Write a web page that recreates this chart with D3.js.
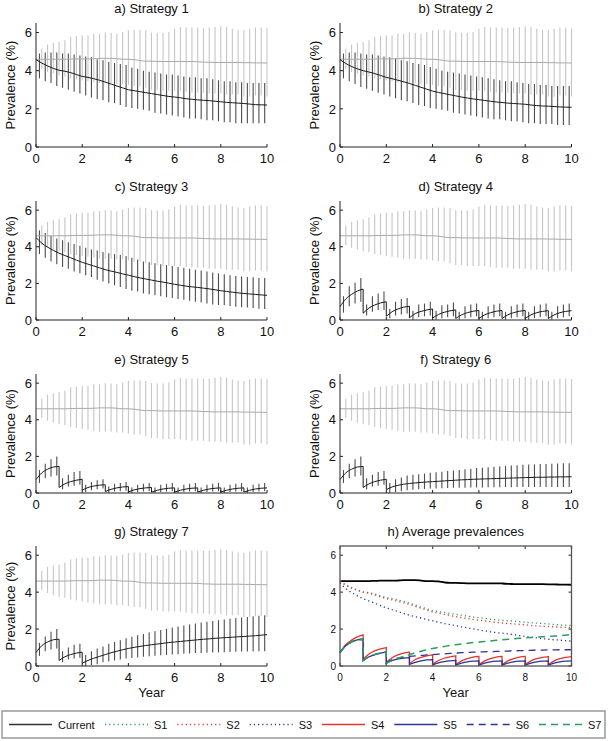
<!DOCTYPE html>
<html><head><meta charset="utf-8">
<script src="https://cdn.jsdelivr.net/npm/d3@7/dist/d3.min.js"></script>
<style>body{margin:0;background:#fff}svg{display:block}text{font-family:"Liberation Sans",Arial,Helvetica,sans-serif;fill:#111}</style>
</head><body><svg id="c" width="608" height="741"></svg>
<script>
// ---------------- DATA ----------------
const xTicks = [0, 2, 4, 6, 8, 10];
const yTicks = [0, 2, 4, 6];
const yearStarts = [0, 1, 2, 3, 4, 5, 6, 7, 8, 9];
const withinYear = [0, 0.25, 0.5, 0.75, 1];
const barTimes = [0.25,0.5,0.75,1,1.25,1.5,1.75,2,2.25,2.5,2.75,3,3.25,3.5,3.75,4,4.25,4.5,4.75,5,
                  5.25,5.5,5.75,6,6.25,6.5,6.75,7,7.25,7.5,7.75,8,8.25,8.5,8.75,9,9.25,9.5,9.75,10];

// Current (grey) series: mean at yearly segments, and error bar bounds
const currentMean = [
 [4.6,4.6,4.6,4.6,4.6],[4.6,4.6,4.61,4.62,4.62],[4.62,4.62,4.63,4.65,4.65],[4.65,4.65,4.63,4.6,4.6],
 [4.6,4.58,4.53,4.5,4.5],[4.5,4.49,4.48,4.48,4.48],[4.48,4.48,4.48,4.48,4.47],[4.47,4.45,4.44,4.43,4.43],
 [4.43,4.43,4.43,4.43,4.42],[4.42,4.42,4.41,4.41,4.4]];
const currentHi = [5.16,5.37,5.45,5.5,5.6,5.77,5.82,5.86,5.86,5.94,5.94,6.0,5.98,5.94,6.03,6.12,6.15,6.15,6.12,6.0,
                   5.98,5.98,6.03,6.2,6.29,6.26,6.26,6.26,6.24,6.26,6.29,6.33,6.29,6.2,6.15,6.12,6.2,6.26,6.26,6.22];
const currentLo = [4.1,3.95,3.85,3.75,3.7,3.6,3.55,3.5,3.45,3.4,3.35,3.35,3.35,3.3,3.3,3.25,3.2,3.2,3.1,3.0,
                   3.0,2.95,2.95,2.95,2.95,2.9,2.85,2.85,2.85,2.8,2.8,2.8,2.75,2.75,2.75,2.65,2.65,2.7,2.7,2.65];

// Strategy 1
const s1Mean = [[4.58,4.4,4.25,4.12,4.02],[4.02,3.97,3.9,3.8,3.7],[3.7,3.65,3.58,3.5,3.4],[3.4,3.3,3.2,3.1,3.0],
 [3.0,2.95,2.9,2.85,2.8],[2.8,2.75,2.7,2.65,2.62],[2.62,2.58,2.53,2.5,2.47],[2.47,2.45,2.43,2.4,2.37],
 [2.37,2.34,2.32,2.3,2.28],[2.28,2.25,2.22,2.21,2.2]];
const s1Hi = [4.9,4.95,4.95,4.95,4.9,4.9,4.85,4.8,4.75,4.7,4.6,4.55,4.45,4.4,4.35,4.3,4.15,4.1,4.0,3.95,
              3.9,3.85,3.8,3.8,3.75,3.7,3.65,3.65,3.6,3.6,3.55,3.5,3.45,3.45,3.4,3.4,3.35,3.35,3.35,3.35];
const s1Lo = [3.6,3.45,3.35,3.2,3.1,3.0,2.9,2.8,2.7,2.6,2.5,2.45,2.35,2.3,2.2,2.1,2.05,2.0,1.95,1.9,
              1.8,1.75,1.7,1.65,1.6,1.55,1.5,1.5,1.45,1.4,1.4,1.35,1.3,1.3,1.25,1.25,1.25,1.25,1.25,1.25];
// Strategy 2
const s2Mean = [[4.58,4.38,4.22,4.1,4.0],[4.0,3.93,3.85,3.75,3.65],[3.65,3.58,3.5,3.42,3.33],[3.33,3.23,3.13,3.03,2.93],
 [2.93,2.86,2.8,2.74,2.68],[2.68,2.62,2.57,2.52,2.48],[2.48,2.44,2.4,2.36,2.33],[2.33,2.3,2.28,2.26,2.24],
 [2.24,2.2,2.17,2.15,2.14],[2.14,2.12,2.1,2.09,2.08]];
const s2Hi = [4.9,4.95,4.95,4.9,4.85,4.85,4.8,4.75,4.7,4.65,4.55,4.5,4.4,4.35,4.3,4.2,4.1,4.0,3.95,3.9,
              3.85,3.8,3.75,3.7,3.65,3.6,3.55,3.5,3.45,3.45,3.4,3.35,3.3,3.3,3.25,3.25,3.2,3.2,3.2,3.2];
const s2Lo = [3.6,3.45,3.3,3.15,3.05,2.95,2.85,2.75,2.65,2.55,2.45,2.4,2.3,2.2,2.15,2.05,2.0,1.95,1.9,1.8,
              1.75,1.7,1.65,1.6,1.55,1.5,1.45,1.45,1.4,1.35,1.35,1.3,1.25,1.25,1.2,1.2,1.2,1.15,1.15,1.15];
// Strategy 3
const s3Mean = [[4.5,4.2,3.98,3.8,3.65],[3.65,3.52,3.4,3.27,3.15],[3.15,3.05,2.95,2.85,2.75],[2.75,2.67,2.6,2.52,2.45],
 [2.45,2.37,2.3,2.24,2.18],[2.18,2.12,2.07,2.01,1.95],[1.95,1.9,1.85,1.81,1.78],[1.78,1.74,1.7,1.65,1.6],
 [1.6,1.56,1.52,1.48,1.45],[1.45,1.42,1.4,1.37,1.35]];
const s3Hi = [4.9,4.75,4.6,4.45,4.35,4.25,4.15,4.05,3.95,3.85,3.8,3.72,3.65,3.6,3.55,3.5,3.4,3.3,3.2,3.15,
              3.1,3.05,3.0,2.95,2.9,2.85,2.8,2.75,2.7,2.65,2.6,2.55,2.5,2.45,2.4,2.38,2.35,2.33,2.3,2.3];
const s3Lo = [3.6,3.4,3.2,3.05,2.9,2.8,2.65,2.55,2.45,2.35,2.2,2.1,2.0,1.9,1.8,1.7,1.6,1.55,1.45,1.4,
              1.35,1.3,1.25,1.2,1.15,1.1,1.05,1.0,0.95,0.9,0.85,0.82,0.8,0.76,0.72,0.7,0.68,0.65,0.62,0.6];
// Strategy 4
const s4Mean = [[0.73,1.15,1.4,1.58,1.69],[0.37,0.65,0.82,0.93,1.0],[0.2,0.45,0.6,0.7,0.75],[0.12,0.35,0.47,0.55,0.6],
 [0.1,0.3,0.42,0.5,0.55],[0.08,0.28,0.4,0.48,0.52],[0.08,0.28,0.4,0.48,0.52],[0.08,0.28,0.4,0.48,0.52],
 [0.08,0.28,0.4,0.47,0.51],[0.08,0.28,0.4,0.47,0.51]];
const s4Hi = [1.3,1.85,2.05,2.3,0.85,1.3,1.45,1.55,0.6,1.0,1.15,1.2,0.5,0.85,0.9,1.0,0.5,0.8,0.85,0.95,
              0.45,0.75,0.85,0.9,0.45,0.75,0.85,0.9,0.45,0.75,0.85,0.9,0.45,0.75,0.85,0.9,0.45,0.75,0.85,0.9];
const s4Lo = [0.4,0.75,0.9,1.0,0.25,0.45,0.55,0.55,0.1,0.25,0.3,0.35,0.02,0.15,0.2,0.25,0.02,0.1,0.15,0.2,
              0.02,0.1,0.15,0.2,0.02,0.1,0.15,0.2,0.02,0.1,0.15,0.2,0.02,0.1,0.15,0.2,0.02,0.1,0.15,0.2];
// Strategy 5
const s5Mean = [[0.73,1.1,1.3,1.42,1.45],[0.3,0.5,0.62,0.7,0.75],[0.15,0.3,0.38,0.43,0.45],[0.08,0.2,0.28,0.33,0.35],
 [0.06,0.17,0.24,0.28,0.3],[0.05,0.15,0.22,0.26,0.28],[0.05,0.15,0.22,0.26,0.28],[0.05,0.15,0.22,0.26,0.28],
 [0.05,0.15,0.22,0.26,0.28],[0.05,0.15,0.22,0.26,0.28]];
const s5Hi = [1.25,1.6,1.85,2.0,0.8,1.0,1.15,1.2,0.45,0.6,0.7,0.75,0.35,0.5,0.55,0.6,0.3,0.45,0.5,0.55,
              0.3,0.45,0.5,0.55,0.3,0.45,0.5,0.55,0.3,0.45,0.5,0.55,0.3,0.45,0.5,0.55,0.3,0.45,0.5,0.55];
const s5Lo = [0.55,0.8,0.9,0.95,0.2,0.35,0.4,0.45,0.05,0.15,0.2,0.25,0.02,0.08,0.1,0.12,0.02,0.05,0.08,0.1,
              0.02,0.05,0.08,0.1,0.02,0.05,0.08,0.1,0.02,0.05,0.08,0.1,0.02,0.05,0.08,0.1,0.02,0.05,0.08,0.1];
// Strategy 6
const s6Mean = [[0.73,1.1,1.3,1.42,1.45],[0.3,0.5,0.62,0.7,0.75],[0.18,0.33,0.42,0.48,0.52],[0.52,0.55,0.58,0.6,0.62],
 [0.62,0.64,0.66,0.68,0.7],[0.7,0.72,0.73,0.75,0.76],[0.76,0.77,0.78,0.79,0.8],[0.8,0.81,0.82,0.83,0.84],
 [0.84,0.85,0.86,0.86,0.87],[0.87,0.87,0.88,0.88,0.89]];
const s6Hi = [1.25,1.6,1.85,2.0,0.8,1.0,1.15,1.2,0.55,0.75,0.85,0.95,1.0,1.03,1.06,1.1,1.13,1.16,1.2,1.23,
              1.26,1.3,1.33,1.36,1.38,1.41,1.44,1.46,1.48,1.5,1.52,1.54,1.55,1.56,1.58,1.59,1.6,1.61,1.62,1.63];
const s6Lo = [0.55,0.8,0.9,0.95,0.2,0.35,0.4,0.45,0.0,0.05,0.1,0.15,0.18,0.2,0.22,0.24,0.25,0.26,0.27,0.28,
              0.28,0.29,0.3,0.3,0.3,0.31,0.31,0.32,0.32,0.32,0.33,0.33,0.33,0.33,0.33,0.33,0.33,0.33,0.33,0.33];
// Strategy 7
const s7Mean = [[0.73,1.1,1.3,1.42,1.45],[0.3,0.5,0.62,0.7,0.75],[0.15,0.3,0.42,0.52,0.62],[0.62,0.72,0.8,0.88,0.95],
 [0.95,1.01,1.06,1.11,1.15],[1.15,1.19,1.23,1.27,1.3],[1.3,1.33,1.36,1.39,1.42],[1.42,1.45,1.47,1.5,1.52],
 [1.52,1.54,1.56,1.58,1.6],[1.6,1.62,1.64,1.67,1.7]];
const s7Hi = [1.25,1.6,1.85,2.0,0.8,1.0,1.15,1.2,0.6,0.8,0.95,1.05,1.2,1.3,1.4,1.5,1.58,1.66,1.74,1.82,
              1.88,1.95,2.02,2.08,2.14,2.2,2.25,2.3,2.35,2.4,2.44,2.48,2.52,2.56,2.6,2.63,2.66,2.69,2.72,2.75];
const s7Lo = [0.55,0.8,0.9,0.95,0.2,0.35,0.4,0.45,0.0,0.05,0.1,0.2,0.25,0.3,0.35,0.4,0.43,0.46,0.5,0.53,
              0.55,0.58,0.6,0.62,0.64,0.66,0.68,0.7,0.71,0.72,0.73,0.74,0.75,0.76,0.77,0.78,0.78,0.79,0.8,0.8];

const panelTitles = ["a) Strategy 1","b) Strategy 2","c) Strategy 3","d) Strategy 4","e) Strategy 5","f) Strategy 6","g) Strategy 7","h) Average prevalences"];
const legendLabels = ["Current","S1","S2","S3","S4","S5","S6","S7"];

// ---------------- LAYOUT ----------------
const svg = d3.select("#c");
const colX = [[36, 267], [340, 571.5]];
const rowY = [[23, 147], [201, 320], [374, 493], [546, 666]];   // [top, bottom]
const FONT = 13;

const strategies = [
  {mean:s1Mean, hi:s1Hi, lo:s1Lo}, {mean:s2Mean, hi:s2Hi, lo:s2Lo}, {mean:s3Mean, hi:s3Hi, lo:s3Lo},
  {mean:s4Mean, hi:s4Hi, lo:s4Lo}, {mean:s5Mean, hi:s5Hi, lo:s5Lo}, {mean:s6Mean, hi:s6Hi, lo:s6Lo},
  {mean:s7Mean, hi:s7Hi, lo:s7Lo}];

function drawSeries(g, x, y, segs, color, width, dash) {
  const line = d3.line().x(d => x(d[0])).y(d => y(d[1])).curve(d3.curveMonotoneX);
  let d = "";
  segs.forEach((seg, i) => {
    const pts = withinYear.map((w, j) => [yearStarts[i] + w, seg[j]]);
    const p = line(pts);
    if (i === 0) d += p; else d += "L" + p.slice(1);
  });
  g.append("path").attr("d", d).attr("fill","none").attr("stroke",color).attr("stroke-width",width)
    .attr("stroke-dasharray", dash || null);
}
function drawBars(g, x, y, lo, hi, offset, color) {
  g.append("g").attr("stroke", color).attr("stroke-width", 1.1)
   .selectAll("line").data(barTimes).join("line")
   .attr("x1", (t) => x(t + offset)).attr("x2", (t) => x(t + offset))
   .attr("y1", (t, i) => y(lo[i])).attr("y2", (t, i) => y(hi[i]));
}

function axes(g, x, y, small, box) {
  const x0 = x.range()[0], x1 = x.range()[1], y0 = y.range()[0], y1 = y.range()[1];
  const ax = g.append("g").attr("stroke", box ? "#555" : "#222").attr("stroke-width", box ? 1.3 : 1).attr("fill","none");
  if (box) ax.append("rect").attr("x", x0).attr("y", y1).attr("width", x1 - x0).attr("height", y0 - y1);
  else {
    ax.append("line").attr("x1", x0).attr("x2", x1).attr("y1", y0).attr("y2", y0);
    ax.append("line").attr("x1", x0).attr("x2", x0).attr("y1", y0).attr("y2", y1);
  }
  const tl = 3;
  xTicks.forEach(v => {
    ax.append("line").attr("x1", x(v)).attr("x2", x(v)).attr("y1", y0).attr("y2", y0 - tl);
    if (box) ax.append("line").attr("x1", x(v)).attr("x2", x(v)).attr("y1", y1).attr("y2", y1 + tl);
  });
  yTicks.forEach(v => {
    ax.append("line").attr("x1", x0).attr("x2", x0 + tl).attr("y1", y(v)).attr("y2", y(v));
    if (box) ax.append("line").attr("x1", x1).attr("x2", x1 - tl).attr("y1", y(v)).attr("y2", y(v));
  });
  const fs = small ? 10 : FONT;
  g.append("g").selectAll("text").data(xTicks).join("text")
    .attr("x", d => x(d)).attr("y", y0 + (small ? 15 : 16)).attr("text-anchor","middle")
    .attr("font-size", fs).text(d => d);
  g.append("g").selectAll("text").data(yTicks).join("text")
    .attr("x", x0 - 4).attr("y", d => y(d) + fs * 0.36).attr("text-anchor","end")
    .attr("font-size", fs).text(d => d);
}

for (let p = 0; p < 8; p++) {
  const col = p % 2, row = Math.floor(p / 2);
  const x = d3.scaleLinear().domain([0, 10]).range(colX[col]);
  const y = d3.scaleLinear().domain([0, 6.5]).range([rowY[row][1], rowY[row][0]]);
  const g = svg.append("g");
  g.append("text").attr("x", (colX[col][0] + colX[col][1]) / 2).attr("y", rowY[row][0] - 10.5)
    .attr("text-anchor","middle").attr("font-size", FONT).text(panelTitles[p]);
  if (p < 7) {
    const s = strategies[p];
    drawBars(g, x, y, currentLo, currentHi, 0, "#c6c6c6");
    drawBars(g, x, y, s.lo, s.hi, -0.1, "#4d4d4d");
    drawSeries(g, x, y, currentMean, "#a9a9a9", 1);
    drawSeries(g, x, y, s.mean, "#1a1a1a", 1);
    axes(g, x, y, false, false);
    const cy = (rowY[row][0] + rowY[row][1]) / 2;
    g.append("text").attr("transform", `translate(${colX[col][0] - 21},${cy}) rotate(-90)`)
      .attr("text-anchor","middle").attr("font-size", FONT).text("Prevalence (%)");
  } else {
    const styles = [
      {segs: currentMean, color:"#000", w:1.8, dash:null},
      {segs: s1Mean, color:"#2aa05c", w:1.3, dash:"1.2,3"},
      {segs: s2Mean, color:"#e2352f", w:1.3, dash:"1.2,3"},
      {segs: s3Mean, color:"#2d3592", w:1.3, dash:"1.2,3"},
      {segs: s4Mean, color:"#e2352f", w:1.3, dash:null},
      {segs: s5Mean, color:"#2d3592", w:1.3, dash:null},
      {segs: s6Mean, color:"#2d3592", w:1.3, dash:"7,5"},
      {segs: s7Mean, color:"#2aa05c", w:1.5, dash:"7,5"}];
    styles.forEach(st => drawSeries(g, x, y, st.segs, st.color, st.w, st.dash));
    axes(g, x, y, true, true);
  }
  if (row === 3) {
    g.append("text").attr("x", (colX[col][0] + colX[col][1]) / 2).attr("y", 697)
      .attr("text-anchor","middle").attr("font-size", FONT).text("Year");
  }
}

// ---------------- LEGEND ----------------
const lg = svg.append("g");
lg.append("rect").attr("x", 2).attr("y", 711).attr("width", 603).attr("height", 27)
  .attr("fill","#fff").attr("stroke","#999").attr("stroke-width",1.5);
const legStyles = [
  {color:"#333", dash:null, w:1.3}, {color:"#2aa05c", dash:"1.2,3", w:1.3}, {color:"#e2352f", dash:"1.2,3", w:1.3},
  {color:"#2d3592", dash:"1.2,3", w:1.3}, {color:"#e2352f", dash:null, w:1.5}, {color:"#2d3592", dash:null, w:1.5},
  {color:"#2d3592", dash:"7,5", w:1.5}, {color:"#2aa05c", dash:"7,5", w:1.5}];
const legX = d3.scaleLinear().domain([1, 7]).range([105, 539]);
legendLabels.forEach((lab, i) => {
  const lx = i === 0 ? 9 : legX(i);
  const ly = 724.5;
  lg.append("line").attr("x1", lx).attr("x2", lx + 43).attr("y1", ly).attr("y2", ly)
    .attr("stroke", legStyles[i].color).attr("stroke-width", legStyles[i].w)
    .attr("stroke-dasharray", legStyles[i].dash);
  lg.append("text").attr("x", lx + 49).attr("y", ly + 4).attr("font-size", 11).text(lab);
});
</script></body></html>
